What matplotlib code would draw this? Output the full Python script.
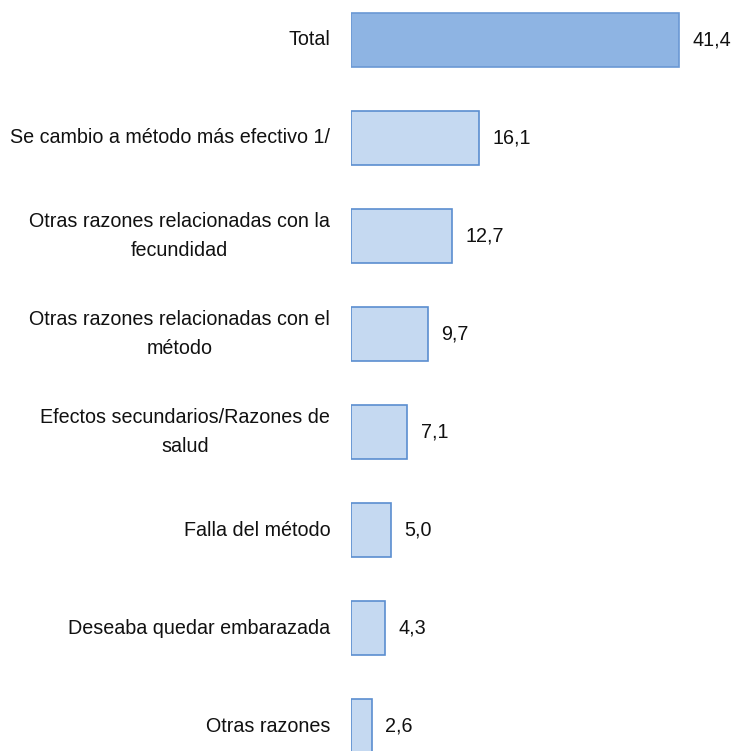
import matplotlib
matplotlib.use("Agg")
import matplotlib.pyplot as plt

plt.rcParams['font.family'] = ['Liberation Sans', 'DejaVu Sans']

# Data (Total first, from top to bottom)
categories = [
    "Total",
    "Se cambio a método más efectivo 1/",
    "Otras razones relacionadas con la\nfecundidad",
    "Otras razones relacionadas con el\nmétodo",
    "Efectos secundarios/Razones de\nsalud",
    "Falla del método",
    "Deseaba quedar embarazada",
    "Otras razones",
]
values = [41.4, 16.1, 12.7, 9.7, 7.1, 5.0, 4.3, 2.6]

W, H = 735, 751
fig = plt.figure(figsize=(W / 100, H / 100), dpi=100)
ax = fig.add_axes([351 / W, 0, 1 - 351 / W, 1])

fills = ["#8EB4E3"] + ["#C5D9F1"] * (len(values) - 1)
edges = ["#6A98D4"] + ["#5B8ED0"] * (len(values) - 1)
ypos = list(range(len(values)))
ax.barh(ypos, values, height=0.56, color=fills, edgecolor=edges, linewidth=1.2)

for y, v in zip(ypos, values):
    ax.text(v + 1.7, y, f"{v:.1f}".replace(".", ","), va="center", ha="left",
            fontsize=14.2, color="#111111")

ax.set_xlim(0, 48.4)
ax.set_ylim(7.255, -0.408)
ax.set_yticks(ypos)
ax.set_yticklabels(categories, fontsize=14.2, color="#111111",
                   multialignment="center", linespacing=1.65, va="center")
ax.tick_params(axis="y", length=0, pad=15)
ax.set_xticks([])
for s in ax.spines.values():
    s.set_visible(False)

fig.savefig("out.png", dpi=100)
